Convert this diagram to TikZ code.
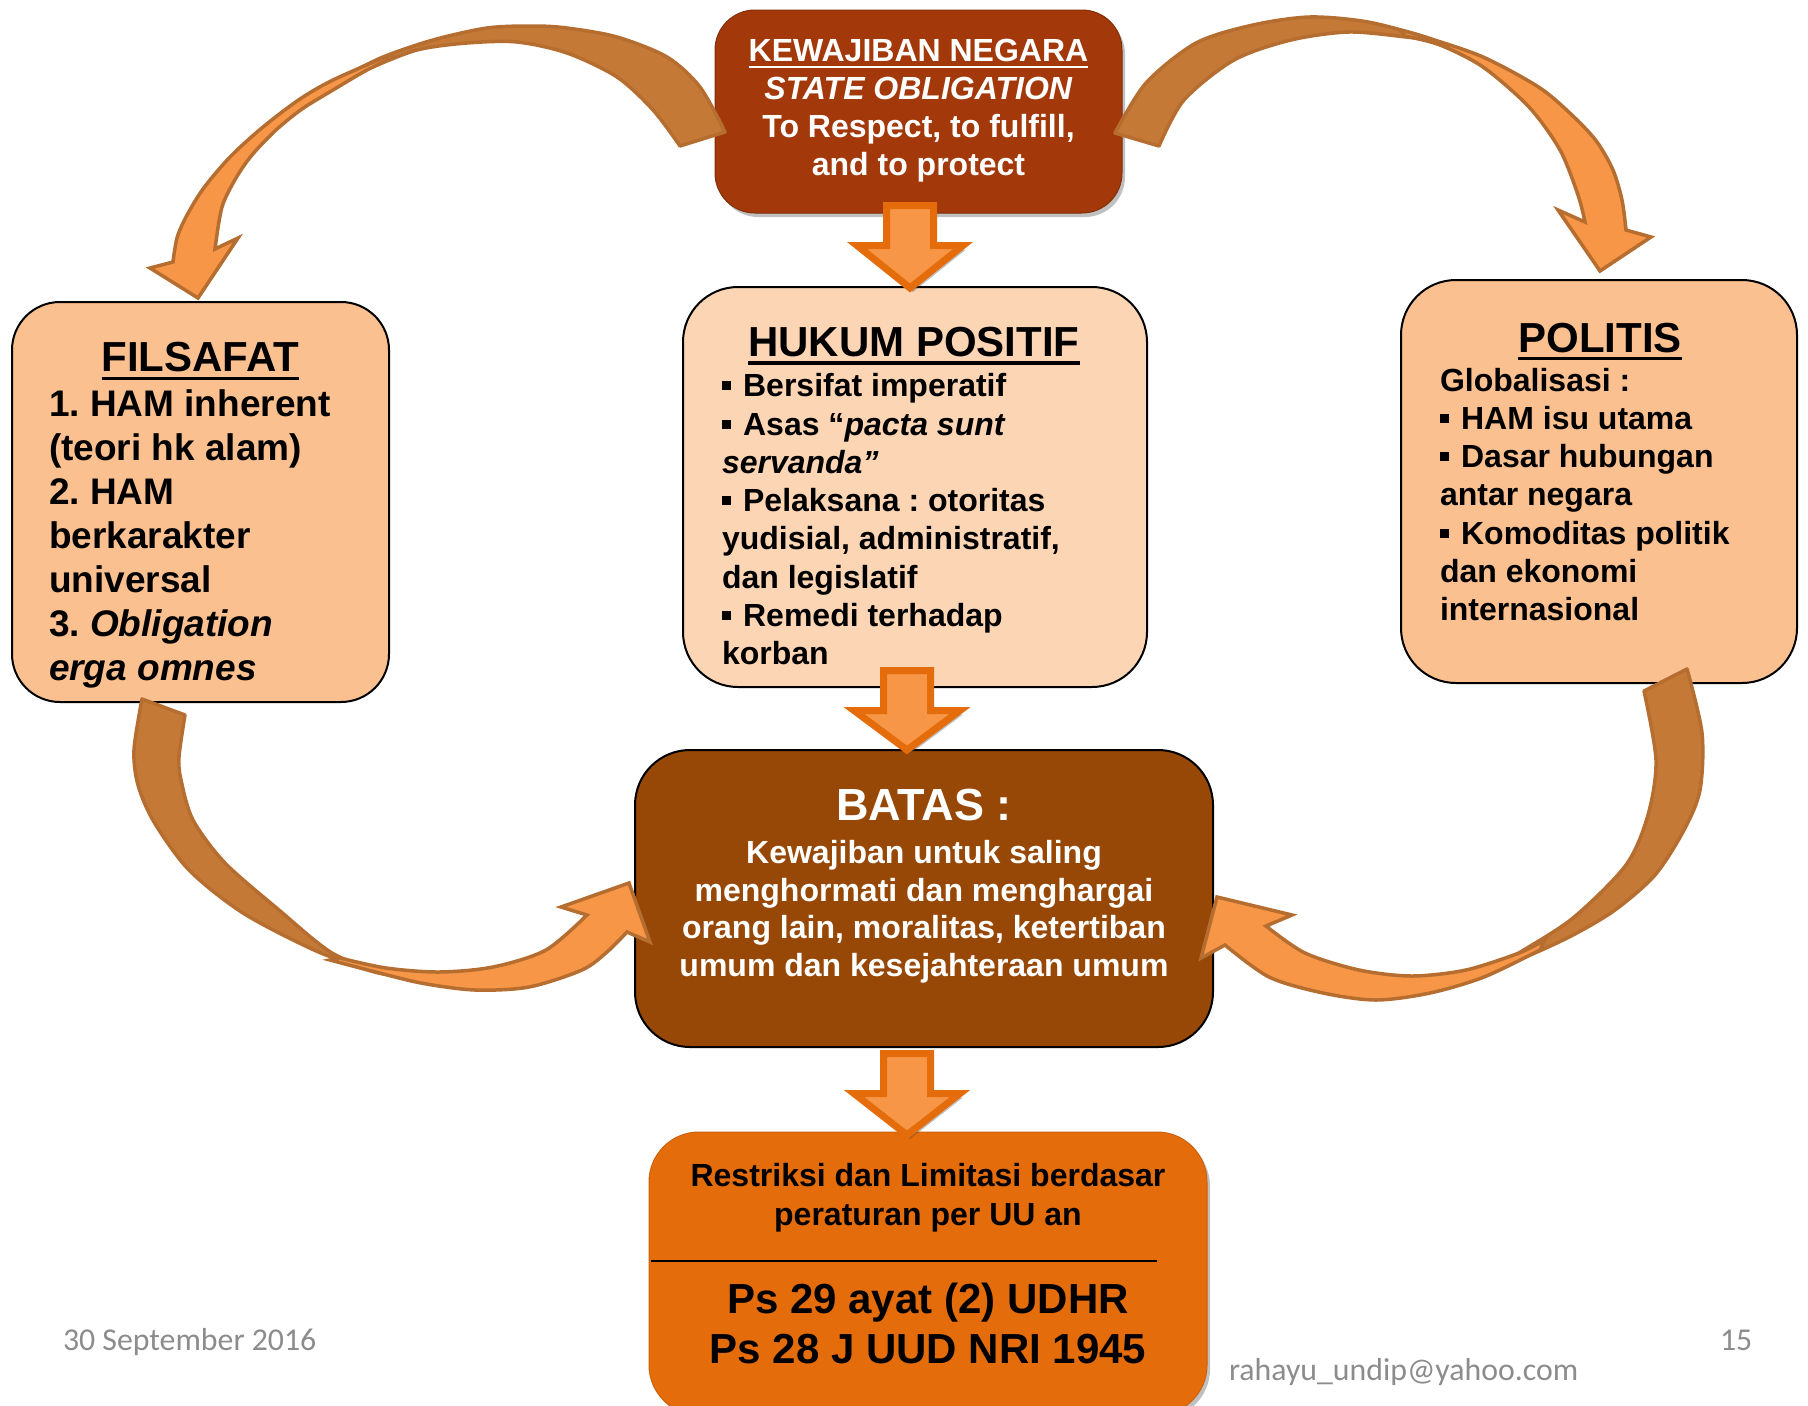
\documentclass[tikz,border=0pt]{standalone}
\usepackage{fontspec}
\setmainfont{Liberation Sans}
\newfontfamily\footfont{Carlito}
\usetikzlibrary{shadows}
\definecolor{topc}{HTML}{A3390A}
\definecolor{batasc}{HTML}{974806}
\definecolor{botc}{HTML}{E46C0A}
\definecolor{peach}{HTML}{FAC090}
\definecolor{lpeach}{HTML}{FCD5B5}
\definecolor{arrf}{HTML}{F79646}
\definecolor{arrd}{HTML}{E46C0A}
\definecolor{cback}{HTML}{C47937}
\definecolor{cline}{HTML}{B66D30}
\definecolor{footc}{HTML}{8C8C8C}
\frenchspacing
\newsavebox\ulbox
\newcommand\myul[3]{\sbox\ulbox{#3}\leavevmode\rlap{\rule[-#1]{\wd\ulbox}{#2}}\usebox\ulbox}
\newcommand\bul{\rule[0.2em]{0.28em}{0.28em}\hspace{0.38em}}
\newcommand\fst{\rule{0pt}{1em}}
\newcommand\darrow[4]{% cx, top, headtop, tip
  \filldraw[sarrow] (#1-23.5,#2) -- (#1+23.5,#2) -- (#1+23.5,#3) -- (#1+53,#3) -- (#1,#4) -- (#1-53,#3) -- (#1-23.5,#3) -- cycle;}
\begin{document}
\begin{tikzpicture}[x=1pt,y=-1pt,
  rbox/.style={rectangle, rounded corners=#1, inner sep=0pt},
  rbox/.default=50pt,
  lined/.style={draw=black, line width=2pt},
  shad/.style={drop shadow={shadow xshift=3pt, shadow yshift=-4pt, opacity=0.35, fill=black!70}},
  txt/.style={inner sep=0pt, outer sep=0pt},
  bodyA/.style={txt, align=left, anchor=north west, font=\fontsize{37}{43.9}\selectfont\bfseries},
  bodyB/.style={txt, align=left, anchor=north west, font=\fontsize{32}{38.3}\selectfont\bfseries},
  ttl/.style={txt, anchor=base, font=\fontsize{42}{50}\selectfont\bfseries},
  foot/.style={txt, anchor=base west, font=\fontsize{31.8}{36}\footfont, text=footc},
  sarrow/.style={fill=arrf, draw=arrd, line width=7pt, shad},
  cdark/.style={fill=cback, draw=cline, line width=3.5pt, line join=round},
  clight/.style={fill=arrf, draw=cline, line width=3.5pt, line join=miter}
]
\useasboundingbox (0,0) rectangle (1808,1406);
\fill[white] (0,0) rectangle (1808,1406);

% boxes
\node[rbox=40pt, fill=topc, draw=topc!80!black, line width=1pt, shad, minimum width=407pt, minimum height=203pt] (top) at (918.5,111.5) {};
\node[rbox=48pt, lined, fill=peach, minimum width=377pt, minimum height=400pt] (fil) at (200.5,502) {};
\node[rbox=55pt, lined, fill=lpeach, minimum width=464pt, minimum height=400pt] (huk) at (915,487) {};
\node[rbox=55pt, lined, fill=peach, minimum width=396pt, minimum height=403pt] (pol) at (1599,481.5) {};
\node[rbox=55pt, lined, fill=batasc, minimum width=578pt, minimum height=297pt] (bat) at (924,898.5) {};
\node[rbox=50pt, fill=botc, draw=botc!90!black, line width=1pt, shad, minimum width=558pt, minimum height=283pt] (bot) at (928,1273.5) {};
\coordinate (sepL) at (651,1261);
\coordinate (sepR) at (1157,1261);
\draw[line width=2pt] (sepL) -- (sepR);

% straight arrows
\darrow{910}{205.5}{245.5}{288}
\darrow{907}{670.5}{710.5}{750}
\darrow{907}{1053.5}{1093.5}{1135}

% curved arrow top-left
\filldraw[cdark] plot[smooth] coordinates {(725,132) (700,87) (667,57) (617,37) (567,28) (533,26) (487,28) (433,40) (383,57) (345,76)}
  -- plot[smooth] coordinates {(345,76) (367,69) (417,50) (467,43) (517,42) (567,53) (617,77) (653,110) (680,146)} -- cycle;
\filldraw[clight] plot[smooth] coordinates {(383,58) (333,80) (300,99) (263,127) (230,157) (203,189) (186,217) (177,238) (173,262)}
  -- (150,268) -- (198,298) -- (238,238) -- (215,249)
  -- plot[smooth] coordinates {(215,249) (222,207) (236,178) (252,155) (276,130) (302,109) (333,90) (367,70) (395,57)} -- cycle;

% curved arrow top-right
\filldraw[cdark] plot[smooth] coordinates {(1115,133) (1146,83) (1196,43) (1253,25) (1310,17) (1368,22) (1425,37) (1452,48)}
  -- plot[smooth] coordinates {(1452,48) (1425,40) (1406,37) (1349,32) (1291,40) (1234,60) (1184,100) (1159,146)} -- cycle;
\filldraw[clight] plot[smooth] coordinates {(1400,30) (1425,37) (1483,57) (1540,88) (1575,118) (1597,142) (1613,170) (1622,200) (1626,230)}
  -- (1651,237) -- (1600,271) -- (1558,210) -- (1585,222)
  -- plot[smooth] coordinates {(1585,222) (1578,195) (1560,150) (1529,107) (1483,67) (1440,45) (1405,36)} -- cycle;

% curved arrow bottom-left
\filldraw[cdark] plot[smooth] coordinates {(142,699) (134,750) (138,785) (154,822) (189,870) (243,913) (314,950) (368,970) (385,974)}
  -- plot[smooth] coordinates {(385,974) (332,953) (279,910) (225,863) (193,820) (181,780) (179,757) (185,715)} -- cycle;
\filldraw[clight] plot[smooth] coordinates {(330,960) (368,970) (421,983) (475,990) (529,987) (582,970) (607,952) (627,932)}
  -- (650,942) -- (629,883) -- (561,907) -- (587,915)
  -- plot[smooth] coordinates {(587,915) (546,950) (493,967) (439,972) (386,968) (340,958)} -- cycle;

% curved arrow bottom-right
\filldraw[cdark] plot[smooth] coordinates {(1687,669) (1702,733) (1700,790) (1684,830) (1655,875) (1615,910) (1573,935) (1530,955) (1500,965)}
  -- plot[smooth] coordinates {(1500,965) (1519,953) (1573,918) (1626,865) (1648,815) (1656,760) (1644,691)} -- cycle;
\filldraw[clight] plot[smooth] coordinates {(1540,950) (1484,977) (1430,993) (1376,1000) (1323,993) (1269,977) (1225,945)}
  -- (1201,958) -- (1217,897) -- (1292,915) -- (1266,926)
  -- plot[smooth] coordinates {(1266,926) (1305,953) (1359,970) (1412,976) (1466,970) (1519,953) (1545,940)} -- cycle;

% texts
\node[txt, anchor=north, align=center, text=white, font=\fontsize{32}{37.8}\selectfont\bfseries] (toptxt) at (918.5,29.7)
  {\fst\myul{6.5pt}{2.5pt}{KEWAJIBAN NEGARA}\\ \textit{STATE OBLIGATION}\\ To Respect, to fulfill,\\ and to protect};

\node[ttl] (filt) at (200.3,371.7) {\myul{8.5pt}{3.3pt}{FILSAFAT}};
\node[bodyA] (filb) at (49,379.7)
  {\fst 1. HAM inherent\\ (teori hk alam)\\ 2. HAM\\ berkarakter\\ universal\\ 3. \textit{Obligation}\\ \textit{erga omnes}};

\node[ttl] (hukt) at (914,356.7) {\myul{8pt}{4pt}{HUKUM POSITIF}};
\node[bodyB] (hukb) at (722,364.7)
  {\fst\bul Bersifat imperatif\\ \bul Asas “\textit{pacta sunt}\\ \textit{servanda”}\\ \bul Pelaksana : otoritas\\ yudisial, administratif,\\ dan legislatif\\ \bul Remedi terhadap\\ korban};

\node[ttl] (polt) at (1600,352) {\myul{8pt}{3.5pt}{POLITIS}};
\node[bodyB] (polb) at (1440,359)
  {\fst Globalisasi :\\ \bul HAM isu utama\\ \bul Dasar hubungan\\ antar negara\\ \bul Komoditas politik\\ dan ekonomi\\ internasional};

\node[ttl, text=white, font=\fontsize{45}{50}\selectfont\bfseries] (batt) at (924,820) {BATAS :};
\node[txt, anchor=north, align=center, text=white, font=\fontsize{32}{37.7}\selectfont\bfseries] (batb) at (924,831.5)
  {\fst Kewajiban untuk saling\\ menghormati dan menghargai\\ orang lain, moralitas, ketertiban\\ umum dan kesejahteraan umum};

\node[txt, anchor=north, align=center, font=\fontsize{32}{38.3}\selectfont\bfseries] (bot1) at (928,1154.7)
  {\fst Restriksi dan Limitasi berdasar\\ peraturan per UU an};
\node[txt, anchor=north, align=center, font=\fontsize{42}{50}\selectfont\bfseries] (bot2) at (928,1271)
  {\fst Ps 29 ayat (2) UDHR\\ Ps 28 J UUD NRI 1945};

\node[foot] (date) at (63,1350) {30 September 2016};
\node[foot] (mail) at (1229,1380) {rahayu\_undip@yahoo.com};
\node[foot] (page) at (1720,1350) {15};
\end{tikzpicture}
\end{document}
